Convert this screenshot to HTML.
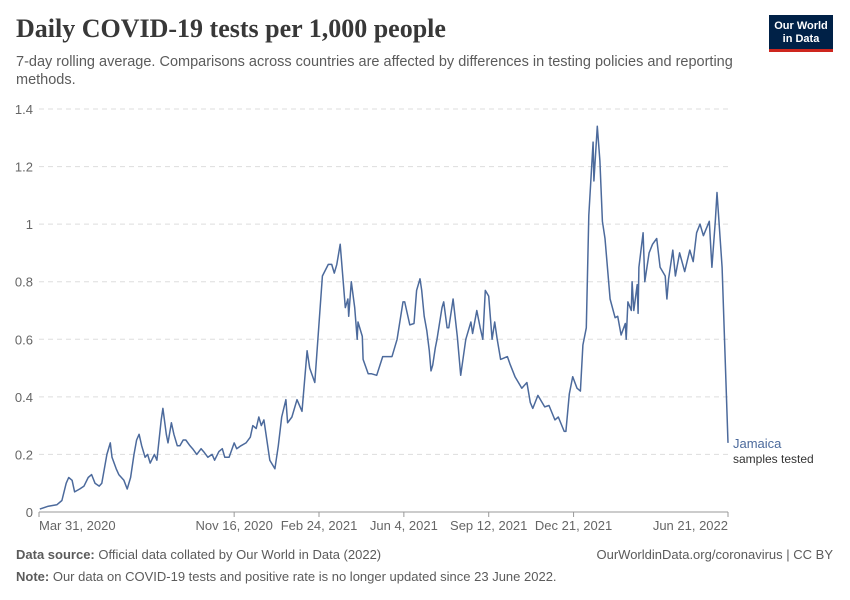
<!DOCTYPE html>
<html><head><meta charset="utf-8"><style>
body{margin:0;background:#fff;font-family:"Liberation Sans",sans-serif;}
#wrap{position:relative;width:850px;height:600px;overflow:hidden;}
.t{position:absolute;white-space:nowrap;}
</style></head><body>
<div id="wrap">
<div class="t" style="left:16px;top:14px;font-family:'Liberation Serif',serif;font-size:26px;font-weight:bold;color:#383838;">Daily COVID-19 tests per 1,000 people</div>
<div class="t" style="left:16px;top:53px;font-size:14.5px;line-height:18px;color:#5b5b5b;white-space:normal;width:740px;">7-day rolling average. Comparisons across countries are affected by differences in testing policies and reporting methods.</div>
<div style="position:absolute;left:769px;top:15px;width:64px;height:37px;background:#002147;border-bottom:3px solid #ce261e;color:#fff;font-size:11px;font-weight:bold;text-align:center;line-height:13px;box-sizing:border-box;padding-top:5px;">Our World<br>in Data</div>
<svg id="chart" width="850" height="600" style="position:absolute;left:0;top:0"></svg>
<div class="t" style="left:16px;top:547px;font-size:13px;color:#5b5b5b;"><b>Data source:</b> Official data collated by Our World in Data (2022)</div>
<div class="t" style="right:17px;top:547px;font-size:13px;color:#5b5b5b;">OurWorldinData.org/coronavirus | CC BY</div>
<div class="t" style="left:16px;top:569px;font-size:13px;color:#5b5b5b;"><b>Note:</b> Our data on COVID-19 tests and positive rate is no longer updated since 23 June 2022.</div>
</div>
<script>
// [day offset from Mar 31 2020, tests per 1,000]
const series=[[1,.01],[11,.02],[21,.025],[27,.04],[32,.1],[35,.12],[39,.11],[42,.07],[48,.08],[53,.09],[58,.12],[62,.13],[66,.1],[71,.09],[74,.1],[80,.2],[84,.24],[86,.19],[91,.15],[94,.13],[100,.11],[104,.08],[108,.12],[112,.2],[115,.25],[118,.27],[121,.23],[125,.19],[128,.2],[131,.17],[136,.2],[139,.18],[144,.32],[146,.36],[150,.27],[152,.24],[156,.31],[159,.27],[163,.23],[166,.23],[170,.25],[173,.25],[178,.23],[181,.22],[186,.2],[191,.22],[194,.21],[199,.19],[204,.2],[207,.18],[212,.21],[216,.22],[219,.19],[224,.19],[230,.24],[233,.22],[238,.23],[244,.24],[249,.26],[252,.3],[256,.29],[259,.33],[262,.3],[265,.32],[272,.18],[278,.15],[282,.23],[286,.33],[291,.39],[293,.31],[298,.33],[304,.39],[310,.35],[316,.56],[319,.5],[325,.45],[334,.82],[341,.86],[345,.86],[348,.83],[351,.86],[355,.93],[361,.71],[364,.74],[365,.68],[368,.8],[372,.71],[375,.6],[376,.66],[381,.61],[382,.53],[388,.48],[392,.48],[398,.475],[405,.54],[416,.54],[422,.6],[429,.73],[431,.73],[437,.65],[442,.655],[445,.77],[449,.81],[451,.77],[454,.68],[457,.63],[460,.56],[462,.49],[464,.51],[467,.57],[469,.6],[475,.71],[477,.73],[481,.64],[483,.64],[488,.74],[493,.61],[497,.475],[503,.6],[509,.66],[511,.62],[516,.7],[520,.64],[523,.6],[526,.77],[530,.75],[534,.6],[537,.66],[540,.6],[544,.53],[552,.54],[555,.515],[561,.47],[569,.43],[575,.45],[579,.38],[582,.36],[588,.405],[596,.365],[601,.37],[608,.32],[612,.33],[619,.28],[621,.28],[625,.41],[629,.47],[634,.43],[638,.42],[641,.58],[645,.64],[648,1.03],[653,1.285],[654,1.15],[658,1.34],[661,1.22],[664,1.01],[667,.95],[673,.74],[679,.675],[682,.68],[686,.615],[691,.655],[692,.6],[694,.73],[698,.7],[699,.8],[701,.7],[705,.79],[706,.69],[707,.85],[712,.97],[714,.8],[719,.9],[723,.93],[728,.95],[732,.85],[738,.82],[740,.74],[742,.81],[747,.91],[750,.82],[755,.9],[761,.835],[767,.91],[771,.87],[775,.97],[779,1.0],[783,.96],[790,1.01],[793,.85],[797,1.01],[799,1.11],[805,.85],[812,.24]];
const yTicks=[0,0.2,0.4,0.6,0.8,1,1.2,1.4];
const yTickLabels=["0","0.2","0.4","0.6","0.8","1","1.2","1.4"];
const xTickDays=[0,230,330,430,530,630,812];
const xTickLabels=["Mar 31, 2020","Nov 16, 2020","Feb 24, 2021","Jun 4, 2021","Sep 12, 2021","Dec 21, 2021","Jun 21, 2022"];
const X0=39,X1=728,Y0=512,Y1=109,DMAX=812,VMAX=1.4;
const xs=d=>X0+d/DMAX*(X1-X0);
const ys=v=>Y0-v/VMAX*(Y0-Y1);
const svg=document.getElementById('chart');
const NS="http://www.w3.org/2000/svg";
function mk(tag,attrs){const e=document.createElementNS(NS,tag);for(const k in attrs)e.setAttribute(k,attrs[k]);svg.appendChild(e);return e;}
yTicks.forEach((v,i)=>{
  if(v>0){const g=mk('line',{x1:X0,x2:X1,y1:ys(v),y2:ys(v),stroke:'#ddd','stroke-dasharray':'5,4'});
  
  }
  const t=mk('text',{x:33,y:ys(v)+5,'text-anchor':'end','font-size':'13','fill':'#666','font-family':'Liberation Sans'});
  t.textContent=yTickLabels[i];
  
  
});
const ax=mk('line',{x1:X0,x2:X1,y1:Y0,y2:Y0,stroke:'#999'});


xTickDays.forEach((d,i)=>{
  const tk=mk('line',{x1:xs(d),x2:xs(d),y1:Y0,y2:Y0+5,stroke:'#999'});
  
  
  const anchor=i==0?'start':(i==xTickDays.length-1?'end':'middle');
  const t=mk('text',{x:xs(d),y:Y0+18,'text-anchor':anchor,'font-size':'13','fill':'#666','font-family':'Liberation Sans'});
  t.textContent=xTickLabels[i];
  
  
});
const pts=series.map(p=>xs(p[0]).toFixed(1)+','+ys(p[1]).toFixed(1)).join(' ');
const line=mk('polyline',{points:pts,fill:'none',stroke:'#4c6a9c','stroke-width':'1.5','stroke-linejoin':'round'});


const ly=ys(series[series.length-1][1]);
const l1=mk('text',{x:733,y:ly+5,'font-size':'13','fill':'#4c6a9c','font-family':'Liberation Sans'});
l1.textContent='Jamaica';


const l2=mk('text',{x:733,y:ly+20,'font-size':'12','fill':'#333','font-family':'Liberation Sans'});
l2.textContent='samples tested';


</script>
</body></html>
